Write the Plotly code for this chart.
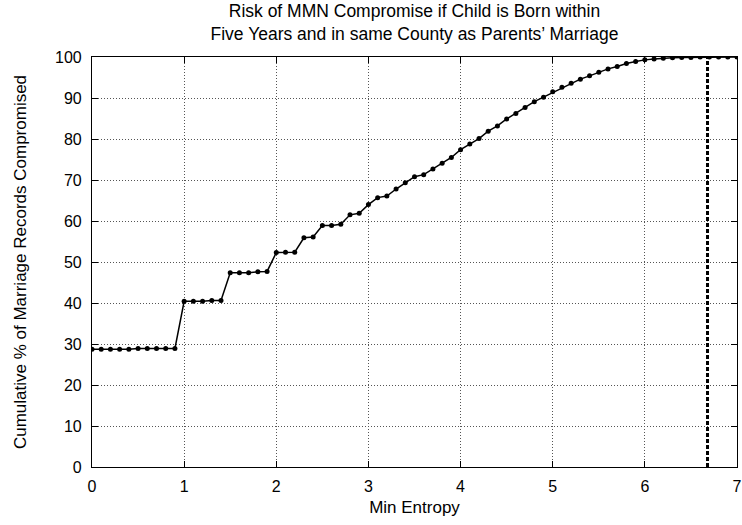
import plotly.graph_objects as go

# Data
min_entropy = [round(i / 10, 1) for i in range(71)]
cum_pct = [
    28.7, 28.7, 28.7, 28.7, 28.7, 28.9, 28.9, 28.9, 28.9, 28.9,
    40.4, 40.4, 40.4, 40.6, 40.6, 47.4, 47.4, 47.4, 47.6, 47.7,
    52.3, 52.4, 52.4, 55.9, 56.1, 58.9, 58.9, 59.2, 61.5, 61.9,
    64.0, 65.7, 66.1, 67.8, 69.3, 70.8, 71.3, 72.7, 74.1, 75.5,
    77.4, 78.8, 80.1, 81.9, 83.2, 84.9, 86.2, 87.7, 89.1, 90.2,
    91.5, 92.6, 93.6, 94.6, 95.4, 96.3, 97.1, 97.7, 98.4, 98.9,
    99.3, 99.5, 99.7, 99.8, 99.9, 99.9, 100.0, 100.0, 100.0, 100.0, 100.0,
]
marker_x = [6.68, 6.68]
marker_y = [0, 100]

x_ticks = [0, 1, 2, 3, 4, 5, 6, 7]
y_ticks = [0, 10, 20, 30, 40, 50, 60, 70, 80, 90, 100]

FONT = "Liberation Sans, Arial, sans-serif"

fig = go.Figure()
fig.add_trace(go.Scatter(
    x=marker_x, y=marker_y, mode="lines",
    line=dict(color="black", width=3, dash="4px,2px"),
    showlegend=False, hoverinfo="skip",
))
fig.add_trace(go.Scatter(
    x=min_entropy, y=cum_pct, mode="lines+markers",
    line=dict(color="black", width=1.5),
    marker=dict(color="black", size=5),
    showlegend=False,
))

axis_common = dict(
    showline=True, linecolor="black", linewidth=1.2, mirror="allticks",
    ticks="inside", ticklen=6, tickcolor="black", tickwidth=1,
    showgrid=True, gridcolor="#555555", griddash="1px,2px", gridwidth=1,
    zeroline=False, automargin=False,
    tickfont=dict(family=FONT, size=16, color="black"),
)

fig.update_layout(
    width=742, height=525,
    margin=dict(l=92, r=5, t=57, b=58),
    paper_bgcolor="white", plot_bgcolor="white",
    font=dict(family=FONT, color="black"),
    title=dict(
        text="Risk of MMN Compromise if Child is Born within<br>Five Years and in same County as Parents\u2019 Marriage",
        x=(92 + 737) / 2 / 742, xanchor="center", y=0.968, yanchor="top",
        font=dict(family=FONT, size=17.5, color="black"),
    ),
    xaxis=dict(
        range=[0, 7], tickvals=x_ticks, ticktext=[str(v) for v in x_ticks],
        ticklabelstandoff=5,
        title=dict(text="Min Entropy", font=dict(family=FONT, size=17), standoff=6),
        **axis_common,
    ),
    yaxis=dict(
        range=[0, 100], tickvals=y_ticks, ticktext=[str(v) for v in y_ticks],
        ticklabelstandoff=6,
        title=dict(text="Cumulative % of Marriage Records Compromised",
                   font=dict(family=FONT, size=17), standoff=24),
        **axis_common,
    ),
)

fig.write_html("out.html", config={"displayModeBar": False},
               post_script="document.body.style.margin='0';")
